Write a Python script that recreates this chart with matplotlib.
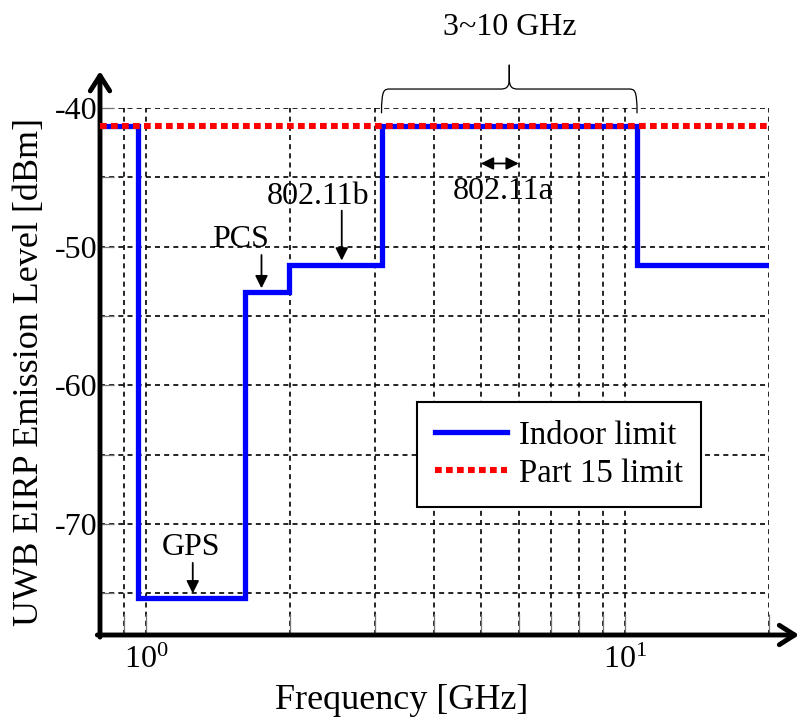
import matplotlib
matplotlib.use('Agg')
import matplotlib.pyplot as plt
import numpy as np
from matplotlib.path import Path
from matplotlib.patches import PathPatch
from matplotlib.ticker import LogLocator, NullFormatter, MultipleLocator

plt.rcParams['font.family'] = 'Liberation Serif'
plt.rcParams['mathtext.fontset'] = 'custom'
plt.rcParams['mathtext.rm'] = 'Liberation Serif'
plt.rcParams['axes.unicode_minus'] = False

# FCC indoor UWB emission mask (step edges in GHz, levels in dBm)
edges = [0.8, 0.96, 1.61, 1.99, 3.1, 10.6, 20]
indoor = [-41.3, -75.3, -53.3, -51.3, -41.3, -51.3]
# Part 15 limit
part15_f = [0.8, 20]
part15 = [-41.3, -41.3]
# bands marked on the chart
uwb_band = [3.1, 10.6]
wlan_a = [5.0, 6.0]

fig = plt.figure(figsize=(8.01, 7.17), dpi=100)
ax = fig.add_axes([100/801, 82/717, 669/801, 527/717])

ax.step(edges, indoor + [indoor[-1]], where='post', color='#0000ff', lw=3.8,
        solid_joinstyle='miter', label='Indoor limit', zorder=3)
ax.plot(part15_f, part15, color='#ff0000', lw=4.4, linestyle=(0, (1.1, 0.7)),
        dash_capstyle='butt', label='Part 15 limit', zorder=4)

ax.set_xscale('log')
ax.set_xlim(0.8, 20)
ax.set_ylim(-78, -40)
ax.xaxis.set_major_locator(LogLocator(base=10))
ax.xaxis.set_minor_locator(LogLocator(base=10, subs=np.arange(2, 10)))
ax.xaxis.set_minor_formatter(NullFormatter())
ax.yaxis.set_major_locator(MultipleLocator(10))
ax.yaxis.set_minor_locator(MultipleLocator(5))

ax.grid(True, which='both', color='k', linestyle=(0, (3, 2.5)), linewidth=1.2)
ax.tick_params(which='both', direction='in', color='0.45', width=0.9, labelsize=23)
ax.tick_params(axis='y', which='both', length=10, pad=2)
ax.tick_params(axis='x', which='both', length=15, pad=8)

for s in ax.spines.values():
    s.set_visible(False)

# axis arrows
arr = dict(arrowstyle='->,head_length=0.55,head_width=0.35', lw=3.5, color='k',
           shrinkA=0, shrinkB=0, mutation_scale=20)
ax.annotate('', xy=(0, 1.07), xytext=(0, -0.004), xycoords='axes fraction',
            textcoords='axes fraction', arrowprops=arr, annotation_clip=False)
ax.annotate('', xy=(1.045, 0), xytext=(-0.004, 0), xycoords='axes fraction',
            textcoords='axes fraction', arrowprops=arr, annotation_clip=False)

ax.set_xlabel('Frequency [GHz]', fontsize=26)
ax.xaxis.set_label_coords(0.451, -0.093)
ax.set_ylabel('UWB EIRP Emission Level [dBm]', fontsize=26, labelpad=6)

# band annotations
small = dict(arrowstyle='-|>,head_length=0.5,head_width=0.25', lw=1.3, color='k',
             shrinkA=0, shrinkB=0, mutation_scale=15)
ax.text(1.24, -71.7, 'GPS', fontsize=23, ha='center', va='center')
ax.annotate('', xy=(1.25, -75.0), xytext=(1.25, -72.8), arrowprops=small)
ax.text(1.57, -49.5, 'PCS', fontsize=23, ha='center', va='center')
ax.annotate('', xy=(1.74, -53.0), xytext=(1.74, -50.6), arrowprops=small)
ax.text(2.28, -46.4, '802.11b', fontsize=23, ha='center', va='center')
ax.annotate('', xy=(2.56, -51.0), xytext=(2.56, -47.4), arrowprops=small)
dbl = dict(small, arrowstyle='<|-|>,head_length=0.5,head_width=0.25')
ax.annotate('', xy=(wlan_a[1], -44.0), xytext=(wlan_a[0], -44.0), arrowprops=dbl)
ax.text(5.57, -46.0, '802.11a', fontsize=23, ha='center', va='center')

# brace over 3~10 GHz
to_ax = lambda f: ax.transAxes.inverted().transform(ax.transData.transform((f, -50)))[0]
x0, x1 = to_ax(uwb_band[0]), to_ax(uwb_band[1])
xm = (x0 + x1) / 2
y0, y1, y2 = 0.99, 1.036, 1.082
c = 0.013
verts = [(x0, y0), (x0, y1), (x0 + 0.3*c, y1), (x0 + c, y1),
         (xm - c, y1),
         (xm - 0.3*c, y1), (xm, y1 + 0.004), (xm, y1 + 0.02),
         (xm, y2), (xm, y1 + 0.02),
         (xm, y1 + 0.004), (xm + 0.3*c, y1), (xm + c, y1),
         (x1 - c, y1),
         (x1 - 0.3*c, y1), (x1, y1), (x1, y0)]
codes = [Path.MOVETO, Path.CURVE4, Path.CURVE4, Path.CURVE4,
         Path.LINETO,
         Path.CURVE4, Path.CURVE4, Path.CURVE4,
         Path.LINETO, Path.LINETO,
         Path.CURVE4, Path.CURVE4, Path.CURVE4,
         Path.LINETO,
         Path.CURVE4, Path.CURVE4, Path.CURVE4]
ax.add_patch(PathPatch(Path(verts, codes), fc='none', ec='k', lw=0.9,
                       transform=ax.transAxes, clip_on=False))
ax.text(xm, 1.152, '3~10 GHz', fontsize=23, ha='center', va='center',
        transform=ax.transAxes)

leg = ax.legend(loc='upper left', bbox_to_anchor=(0.474, 0.442), fontsize=23.6,
                frameon=True, fancybox=False, edgecolor='k', framealpha=1,
                handlelength=2.2, handletextpad=0.37, labelspacing=0.23,
                borderpad=0.55, borderaxespad=0)
leg.get_frame().set_linewidth(1.5)

fig.savefig('out.png', dpi=100)
